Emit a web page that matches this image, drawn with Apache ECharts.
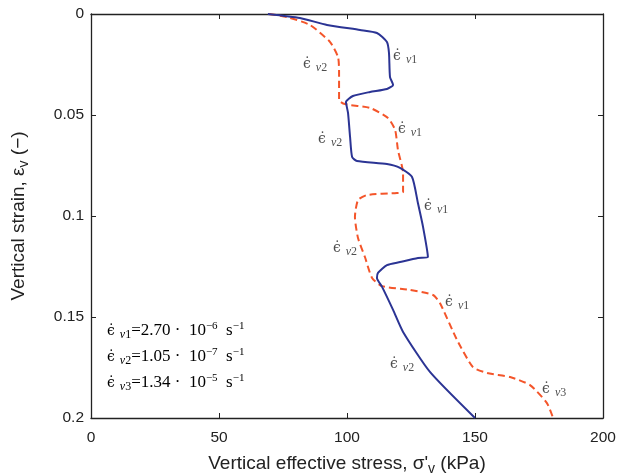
<!DOCTYPE html>
<html>
<head>
<meta charset="utf-8">
<script src="https://cdn.jsdelivr.net/npm/echarts@6/dist/echarts.min.js"></script>
<style>
  html, body { margin: 0; padding: 0; background: #fff; }
  #chart { width: 628px; height: 476px; }
</style>
</head>
<body>
<div id="chart"></div>
<script>
// stress (kPa) / strain (-)
var blueStress = [69.1, 81.6, 92.2, 105.1, 111.7, 115.6, 116.4, 116.8, 118.0, 115.6, 109.0, 102.3, 99.6, 100.4, 101.2, 102.0, 103.9, 115.6, 120.7, 125.4, 127.7, 129.7, 131.6, 127.7, 120.7, 115.6, 112.1, 111.7, 113.7, 118.0, 121.9, 132.4, 150.0];
var blueStrain = [0, 0.002, 0.0054, 0.0079, 0.0094, 0.0139, 0.0193, 0.0312, 0.0351, 0.0371, 0.0386, 0.0406, 0.0436, 0.049, 0.0609, 0.0708, 0.0728, 0.0743, 0.0762, 0.0807, 0.0936, 0.1054, 0.1203, 0.1208, 0.1228, 0.1243, 0.1282, 0.1307, 0.1351, 0.1465, 0.1574, 0.1772, 0.2];

var redStress = [69.5, 76.6, 85.5, 93.4, 96.5, 96.9, 96.9, 99.2, 109.0, 116.0, 118.8, 119.9, 121.9, 121.9, 119.5, 107.8, 104.3, 103.1, 104.3, 107.0, 109.8, 113.7, 124.6, 133.6, 136.3, 143.0, 149.2, 154.7, 163.7, 171.5, 178.1, 180.5];
var redStrain = [0, 0.0015, 0.0054, 0.0139, 0.0213, 0.0287, 0.0426, 0.0446, 0.0465, 0.0515, 0.0574, 0.0673, 0.0787, 0.0881, 0.0886, 0.0896, 0.0921, 0.1005, 0.1109, 0.1203, 0.1307, 0.1347, 0.1366, 0.1391, 0.1431, 0.1614, 0.1748, 0.1777, 0.1797, 0.1837, 0.1926, 0.2];

// curve annotations: stress, strain, subscript index
var noteStress = [118.0, 82.8, 119.9, 88.7, 130.1, 94.5, 138.3, 116.8, 176.2];
var noteStrain = [0.0208, 0.0248, 0.0569, 0.0619, 0.0950, 0.1158, 0.1426, 0.1733, 0.1856];
var noteIndex  = ['1', '2', '1', '2', '1', '2', '1', '2', '3'];

// strain rates shown in the lower-left corner
var rateIndex = ['1', '2', '3'];
var rateValue = ['2.70', '1.05', '1.34'];
var rateExp   = ['−6', '−7', '−5'];

var xTicks = { min: 0, max: 200, interval: 50 };
var yTicks = { min: 0, max: 0.2, interval: 0.05 };

function zip(a, b) {
    return a.map(function (v, i) { return [v, b[i]]; });
}

var serif = 'Liberation Serif';
var ink = '#222';
var mathRich = {
    e: { fontFamily: 'DejaVu Serif', fontSize: 14, color: ink },
    s: { fontFamily: serif, fontSize: 12, fontStyle: 'italic', color: ink, padding: [8, 0, 0, 5] },
    n: { fontFamily: serif, fontSize: 12, color: ink, padding: [8, 0, 0, 0] },
    t: { fontFamily: serif, fontSize: 17, color: ink },
    p: { fontFamily: serif, fontSize: 11, color: ink, padding: [0, 0, 10, 0] }
};

var rateLines = rateIndex.map(function (k, i) {
    return '{e|ϵ̇}{s|v}{n|' + k + '}{t|=' + rateValue[i] + ' ·  10}{p|' + rateExp[i] + '}{t|  s}{p|−1}';
}).join('\n');

var chart = echarts.init(document.getElementById('chart'));

var axisLine = { onZero: false, lineStyle: { color: '#222', width: 1.3 } };
var axisTick = { inside: true, length: 5, lineStyle: { color: '#222', width: 1 } };
var labelStyle = { fontFamily: 'Liberation Sans', fontSize: 15.5, color: '#222' };
var nameStyle = {
    fontFamily: 'Liberation Sans', fontSize: 19, color: '#222',
    rich: { sub: { fontFamily: 'Liberation Sans', fontSize: 14, color: '#222', padding: [11, 0, 0, 0] } }
};

var option = {
    animation: false,
    backgroundColor: '#fff',
    grid: { left: 91, right: 25, top: 14, bottom: 58, outerBoundsMode: 'none' },
    xAxis: [
        {
            type: 'value', min: xTicks.min, max: xTicks.max, interval: xTicks.interval,
            position: 'bottom',
            name: 'Vertical effective stress, σ\'{sub|v} (kPa)',
            nameLocation: 'middle', nameGap: 33,
            nameTextStyle: nameStyle,
            axisLine: axisLine, axisTick: axisTick,
            axisLabel: Object.assign({ margin: 12 }, labelStyle),
            splitLine: { show: false }
        },
        {
            type: 'value', min: xTicks.min, max: xTicks.max, interval: xTicks.interval,
            position: 'top',
            axisLine: axisLine, axisTick: axisTick,
            axisLabel: { show: false }, splitLine: { show: false }
        }
    ],
    yAxis: [
        {
            type: 'value', min: yTicks.min, max: yTicks.max, interval: yTicks.interval,
            inverse: true, position: 'left',
            name: 'Vertical strain, ε{sub|v} (−)',
            nameLocation: 'middle', nameGap: 60,
            nameTextStyle: nameStyle,
            axisLine: axisLine, axisTick: axisTick,
            axisLabel: Object.assign({ margin: 7 }, labelStyle),
            splitLine: { show: false }
        },
        {
            type: 'value', min: yTicks.min, max: yTicks.max, interval: yTicks.interval,
            inverse: true, position: 'right',
            axisLine: axisLine, axisTick: axisTick,
            axisLabel: { show: false }, splitLine: { show: false }
        }
    ],
    series: [
        {
            type: 'line',
            data: zip(blueStress, blueStrain),
            showSymbol: false,
            smooth: 0.2,
            lineStyle: { color: '#2b3494', width: 2 },
            z: 3
        },
        {
            type: 'line',
            data: zip(redStress, redStrain),
            showSymbol: false,
            smooth: 0.2,
            lineStyle: { color: '#f4552a', width: 2, type: [7, 4] },
            z: 2
        },
        {
            type: 'scatter',
            data: noteStress.map(function (v, i) { return [v, noteStrain[i], noteIndex[i]]; }),
            symbolSize: 0,
            silent: true,
            label: {
                show: true,
                position: 'right',
                distance: 0,
                formatter: function (p) { return '{e|ϵ̇}{s|v}{n|' + p.data[2] + '}'; },
                rich: mathRich
            },
            z: 4
        }
    ],
    graphic: [
        {
            type: 'text',
            left: 107, top: 318,
            style: {
                text: rateLines,
                rich: mathRich,
                lineHeight: 26
            }
        }
    ]
};

chart.setOption(option);
</script>
</body>
</html>
